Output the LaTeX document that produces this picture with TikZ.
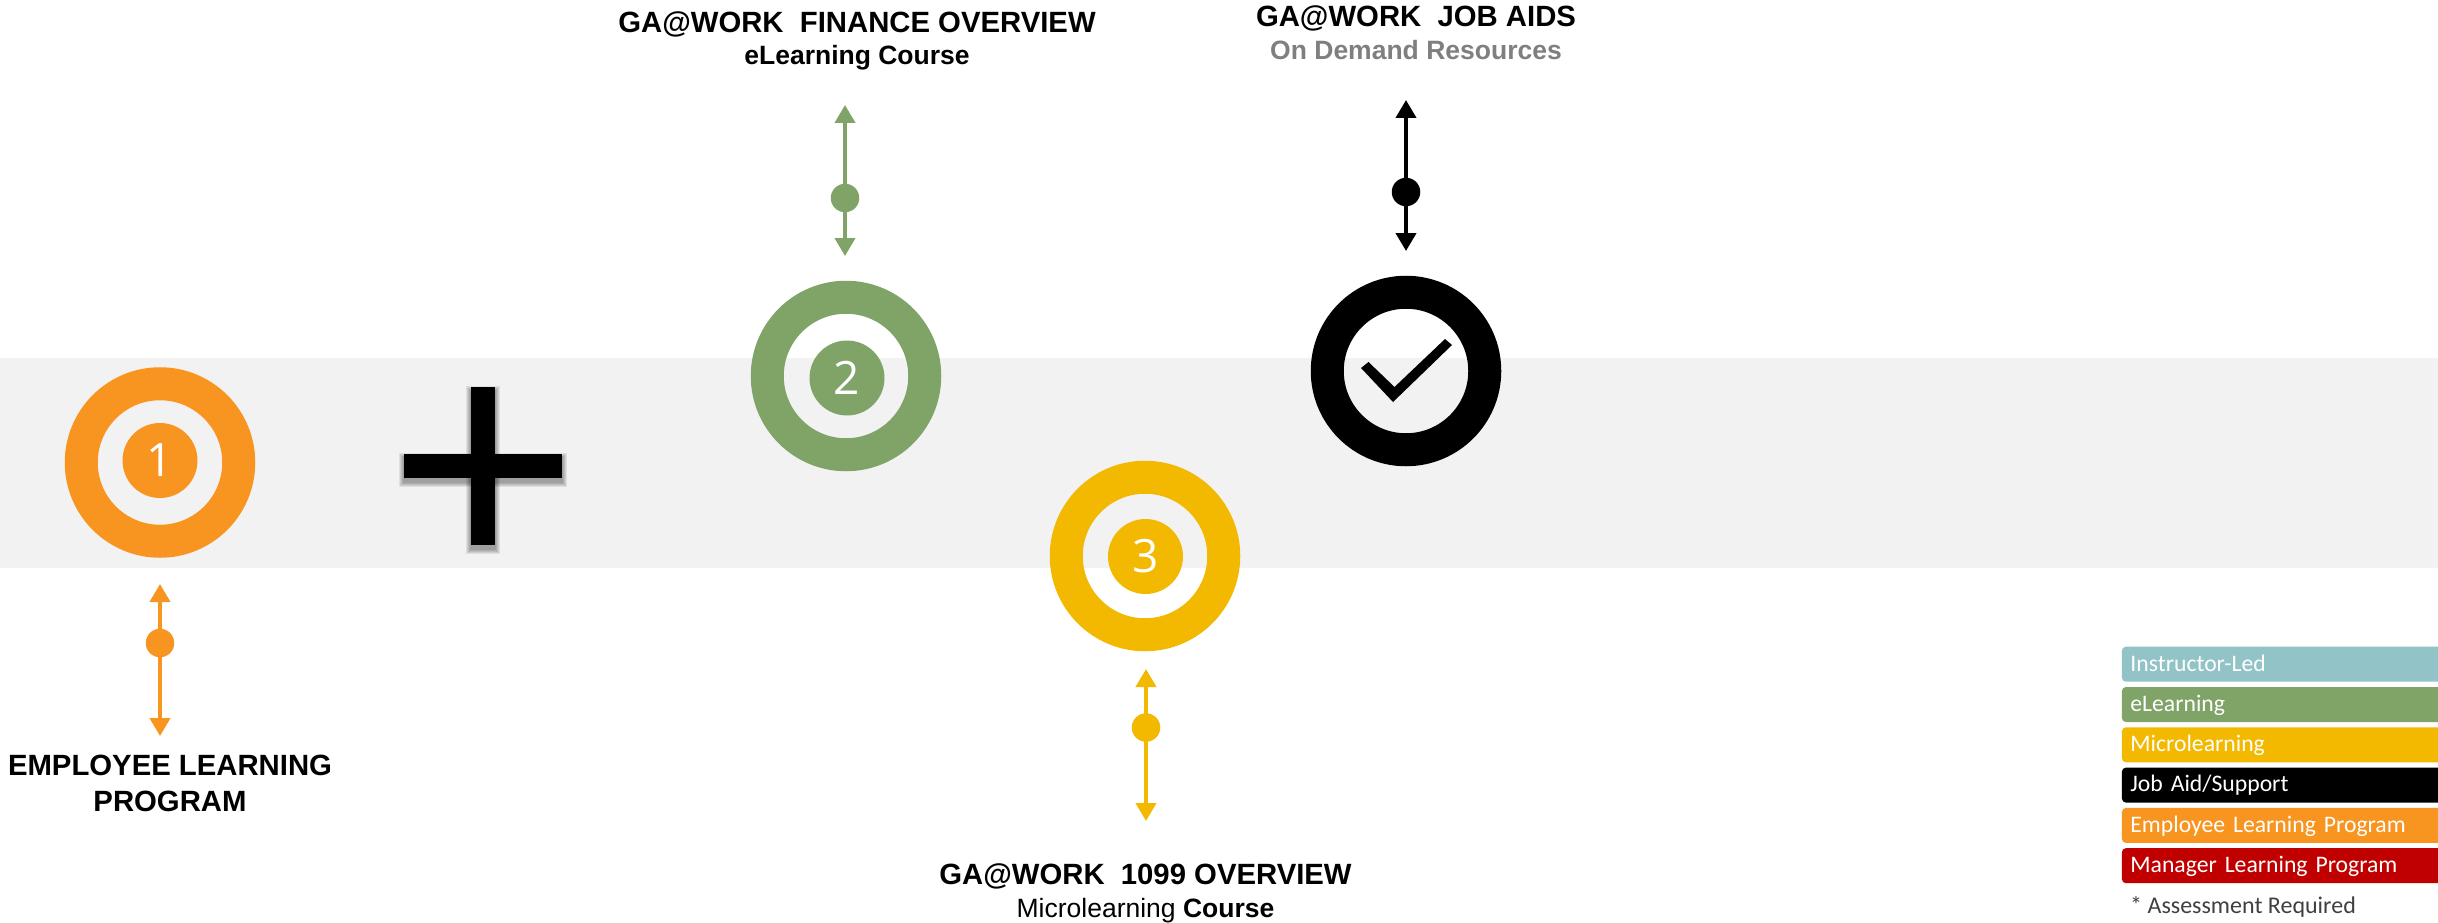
\documentclass[tikz,border=0pt]{standalone}
\usepackage{fontspec}
\setmainfont{Liberation Sans}
\newfontfamily\legendfont{Carlito}
\newfontfamily\digitfont{Open Sans}
\usetikzlibrary{arrows.meta}
\definecolor{cBand}{HTML}{F2F2F2}
\definecolor{cTeal}{HTML}{92C3C6}
\definecolor{cGreen}{HTML}{80A468}
\definecolor{cYellow}{HTML}{F3B800}
\definecolor{cOrange}{HTML}{F89420}
\definecolor{cRed}{HTML}{C00000}
\definecolor{cGrey}{HTML}{7F7F7F}
\definecolor{cNote}{HTML}{404040}
\tikzset{
  ring/.style={circle,draw=#1,line width=33pt,minimum size=157.5pt,inner sep=0pt,outer sep=0pt},
  core/.style={circle,fill=#1,minimum size=75pt,inner sep=0pt,outer sep=0pt,text=white,
    font=\digitfont\fontsize{46}{46}\selectfont},
  midpoint/.style={circle,fill=#1,minimum size=28.5pt,inner sep=0pt,outer sep=0pt},
  link/.style={draw=#1,line width=4pt,{Triangle[width=20pt,length=18pt,#1]}-{Triangle[width=20pt,length=18pt,#1]}},
  title/.style={anchor=base,inner sep=0pt,font=\bfseries\fontsize{29.3}{35}\selectfont},
  subtitle/.style={anchor=base,inner sep=0pt,font=\fontsize{26.5}{32}\selectfont},
  legendbar/.style={anchor=west,fill=#1,rounded corners=4pt,minimum width=340pt,
    text width=323pt,align=left,inner xsep=8.5pt,inner ysep=6pt,text height=18.3pt,text depth=4.7pt,
    text=white,font=\legendfont\fontsize{23.7}{26}\selectfont}
}
\begin{document}
\begin{tikzpicture}[x=1pt,y=-1pt]
\useasboundingbox (0,0) rectangle (2438,923);
\fill[white] (0,0) rectangle (2438,923);
\fill[cBand] (0,358) rectangle (2438,568);

% plus sign with soft shadow
\foreach \w in {10,8,6,4,2}{
  \fill[black,opacity=.08,shift={(0,3.5)}]
    (471-\w/2,387-\w/2) rectangle (495+\w/2,545+\w/2);
  \fill[black,opacity=.08,shift={(0,3.5)}]
    (404-\w/2,454-\w/2) rectangle (562+\w/2,478+\w/2);
}
\fill[black] (471,387) rectangle (495,545);
\fill[black] (404,454) rectangle (562,478);

% targets
\node[ring=cOrange] (ring1) at (160,462.5) {};
\node[core=cOrange] (core1) at (160,460.5) {1};
\node[ring=cGreen] (ring2) at (846,376) {};
\node[core=cGreen] (core2) at (847,378) {2};
\node[ring=cYellow] (ring3) at (1145,556) {};
\node[core=cYellow] (core3) at (1145.5,556.5) {3};
\node[ring=black] (ring4) at (1406,371) {};
\fill[black] (1368.5,362) -- (1361,368) -- (1393,402) -- (1452,345) -- (1445,339) -- (1394.5,387) -- cycle;

% connectors
\coordinate (a1t) at (160,584); \coordinate (a1b) at (160,736);
\draw[link=cOrange] (a1t) -- (a1b);
\node[midpoint=cOrange] (m1) at (160,643) {};
\coordinate (a2t) at (845,105); \coordinate (a2b) at (845,256);
\draw[link=cGreen] (a2t) -- (a2b);
\node[midpoint=cGreen] (m2) at (845,198) {};
\coordinate (a3t) at (1146,669); \coordinate (a3b) at (1146,821);
\draw[link=cYellow] (a3t) -- (a3b);
\node[midpoint=cYellow] (m3) at (1146,727.5) {};
\coordinate (a4t) at (1406,100); \coordinate (a4b) at (1406,251);
\draw[link=black] (a4t) -- (a4b);
\node[midpoint=black] (m4) at (1406,192) {};

% labels
\node[title] (t1a) at (170,775) {EMPLOYEE LEARNING};
\node[title] (t1b) at (170,811) {PROGRAM};
\node[title] (t2) at (857,32.5) {GA@WORK\ \ FINANCE OVERVIEW};
\node[subtitle] (s2) at (857,64.5) {\bfseries eLearning Course};
\node[title] (t3) at (1145.5,884) {GA@WORK\ \ 1099 OVERVIEW};
\node[subtitle] (s3) at (1145.5,917) {Microlearning \textbf{Course}};
\node[title] (t4) at (1416,27) {GA@WORK\ \ JOB AIDS};
\node[subtitle,text=cGrey] (s4) at (1416,60) {\bfseries On Demand Resources};

% legend
\node[legendbar=cTeal] (l1) at (2121.7,664.2) {Instructor-Led};
\node[legendbar=cGreen] (l2) at (2121.7,704.5) {eLearning};
\node[legendbar=cYellow] (l3) at (2121.7,744.8) {Microlearning};
\node[legendbar=black] (l4) at (2121.7,785.1) {Job Aid/Support};
\node[legendbar=cOrange] (l5) at (2121.7,825.4) {Employee Learning Program};
\node[legendbar=cRed] (l6) at (2121.7,865.7) {Manager Learning Program};
\node[anchor=base west,inner sep=0pt,text=cNote,font=\legendfont\fontsize{24}{26}\selectfont] (note) at (2130,913) {* Assessment Required};
\end{tikzpicture}
\end{document}
